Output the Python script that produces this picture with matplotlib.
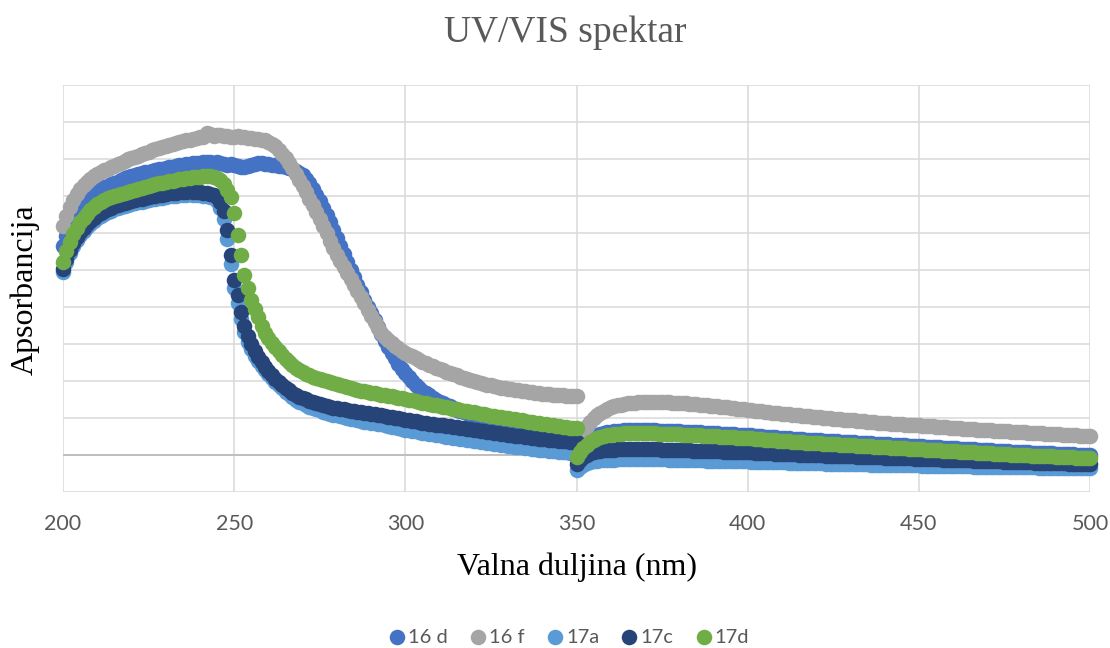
import matplotlib
matplotlib.use("Agg")
import matplotlib.pyplot as plt
from matplotlib.ticker import MultipleLocator, NullFormatter

# Wavelength grid: UV lamp 200-350 nm, then VIS lamp 350-500 nm (350 nm recorded twice)
wavelength_nm = list(range(200, 351)) + list(range(350, 501))

series_names = ["16 d", "16 f", "17a", "17c", "17d"]
series_colors = ["#4472C4", "#A5A5A5", "#5B9BD5", "#264478", "#70AD47"]

# Absorbance in mAU
abs_16d = [
    # 200-350 nm
    209, 219, 227, 234, 240, 245, 250, 254, 258, 261,
    264, 266, 268, 269, 271, 272, 273, 275, 277, 278,
    279, 280, 281, 282, 283, 283, 284, 285, 286, 286,
    287, 288, 288, 289, 290, 290, 291, 291, 292, 292,
    292, 293, 293, 293, 292, 293, 292, 291, 290, 291,
    290, 289, 288, 288, 289, 290, 291, 292, 292, 291,
    291, 290, 290, 289, 289, 288, 287, 286, 284, 282,
    280, 276, 272, 266, 260, 254, 247, 240, 233, 225,
    217, 209, 201, 193, 185, 178, 170, 163, 155, 148,
    142, 135, 128, 121, 114, 108, 102, 97, 91, 86,
    82, 78, 74, 70, 67, 64, 62, 60, 57, 55,
    53, 52, 50, 49, 47, 45, 44, 43, 42, 41,
    40, 39, 38, 38, 37, 36, 35, 35, 34, 34,
    33, 32, 32, 31, 31, 30, 30, 29, 29, 28,
    27, 27, 26, 26, 26, 25, 25, 24, 24, 23,
    23,
    # 350-500 nm
    3, 8, 11, 14, 16, 18, 20, 21, 22, 23,
    23, 24, 24, 24, 25, 25, 25, 25, 25, 25,
    25, 25, 25, 25, 24, 24, 24, 24, 24, 24,
    24, 23, 23, 23, 23, 23, 23, 22, 22, 22,
    22, 22, 21, 21, 21, 21, 21, 20, 20, 20,
    20, 20, 19, 19, 19, 18, 18, 18, 18, 17,
    17, 17, 17, 16, 16, 16, 16, 15, 15, 15,
    15, 15, 14, 14, 14, 14, 14, 13, 13, 13,
    13, 13, 12, 12, 12, 12, 12, 11, 11, 11,
    11, 11, 10, 10, 10, 10, 10, 9, 9, 9,
    9, 9, 8, 8, 8, 8, 8, 7, 7, 7,
    7, 7, 6, 6, 6, 6, 6, 5, 5, 5,
    5, 5, 4, 4, 4, 4, 4, 3, 3, 3,
    3, 3, 3, 2, 2, 2, 2, 2, 2, 2,
    1, 1, 1, 1, 1, 1, 0, 0, 0, 0,
    0,
]

abs_16f = [
    # 200-350 nm
    229, 239, 248, 255, 261, 266, 270, 273, 276, 279,
    281, 283, 285, 286, 288, 289, 291, 292, 294, 296,
    297, 298, 299, 301, 302, 303, 305, 306, 307, 308,
    309, 310, 311, 312, 313, 314, 315, 315, 316, 317,
    318, 318, 322, 321, 319, 320, 320, 319, 319, 318,
    318, 319, 318, 318, 317, 317, 316, 316, 315, 315,
    313, 311, 309, 305, 301, 297, 292, 287, 281, 275,
    269, 263, 256, 250, 243, 236, 229, 222, 214, 207,
    200, 194, 188, 182, 176, 170, 164, 158, 152, 145,
    139, 133, 127, 122, 118, 115, 112, 109, 107, 104,
    102, 100, 99, 97, 95, 93, 92, 90, 89, 87,
    86, 85, 83, 82, 81, 80, 78, 77, 76, 75,
    74, 73, 72, 71, 70, 70, 69, 68, 67, 67,
    66, 66, 65, 65, 64, 64, 63, 63, 62, 62,
    61, 61, 61, 60, 60, 60, 60, 59, 59, 59,
    59,
    # 350-500 nm
    12, 18, 24, 29, 33, 37, 40, 42, 44, 46,
    48, 49, 50, 50, 51, 52, 52, 52, 53, 53,
    53, 53, 53, 53, 53, 53, 53, 53, 52, 52,
    52, 52, 52, 51, 51, 51, 50, 50, 50, 49,
    49, 49, 48, 48, 48, 47, 47, 46, 46, 46,
    45, 45, 44, 44, 44, 43, 43, 42, 42, 42,
    41, 41, 41, 40, 40, 40, 39, 39, 39, 38,
    38, 38, 37, 37, 37, 36, 36, 36, 35, 35,
    35, 35, 34, 34, 34, 33, 33, 33, 32, 32,
    32, 32, 31, 31, 31, 31, 30, 30, 30, 30,
    30, 29, 29, 29, 29, 28, 28, 28, 28, 27,
    27, 27, 27, 26, 26, 26, 26, 25, 25, 25,
    25, 25, 24, 24, 24, 24, 24, 23, 23, 23,
    23, 23, 22, 22, 22, 22, 22, 21, 21, 21,
    21, 21, 20, 20, 20, 20, 20, 19, 19, 19,
    19,
]

abs_17a = [
    # 200-350 nm
    183, 193, 202, 209, 215, 220, 224, 228, 231, 234,
    237, 239, 241, 243, 244, 246, 247, 248, 249, 250,
    251, 252, 253, 253, 254, 255, 256, 256, 257, 257,
    258, 259, 259, 259, 260, 260, 260, 261, 260, 260,
    260, 259, 259, 258, 257, 254, 247, 236, 216, 191,
    167, 152, 136, 123, 113, 106, 99, 94, 89, 85,
    81, 77, 73, 70, 67, 63, 61, 58, 55, 53,
    52, 50, 48, 47, 46, 45, 43, 42, 41, 40,
    40, 39, 38, 37, 36, 36, 35, 34, 33, 33,
    32, 32, 31, 31, 30, 29, 28, 28, 27, 26,
    25, 25, 24, 24, 23, 22, 22, 21, 21, 20,
    20, 19, 18, 18, 17, 17, 16, 16, 15, 15,
    14, 14, 13, 13, 12, 12, 11, 11, 10, 10,
    9, 9, 8, 8, 8, 7, 7, 6, 6, 5,
    5, 5, 4, 4, 4, 3, 3, 3, 2, 2,
    2,
    # 350-500 nm
    -15, -12, -10, -8, -7, -6, -6, -5, -5, -5,
    -5, -5, -4, -4, -4, -4, -4, -4, -4, -4,
    -4, -4, -4, -4, -4, -4, -4, -5, -5, -5,
    -5, -5, -5, -5, -5, -5, -5, -5, -6, -6,
    -6, -6, -6, -6, -6, -6, -6, -6, -6, -6,
    -6, -7, -7, -7, -7, -7, -7, -7, -7, -7,
    -7, -7, -8, -8, -8, -8, -8, -8, -8, -8,
    -8, -8, -8, -9, -9, -9, -9, -9, -9, -9,
    -9, -9, -9, -9, -9, -9, -10, -10, -10, -10,
    -10, -10, -10, -10, -10, -10, -10, -10, -10, -10,
    -10, -11, -11, -11, -11, -11, -11, -11, -11, -11,
    -11, -11, -11, -11, -11, -11, -12, -12, -12, -12,
    -12, -12, -12, -12, -12, -12, -12, -12, -12, -12,
    -12, -12, -12, -12, -12, -13, -13, -13, -13, -13,
    -13, -13, -13, -13, -13, -13, -13, -13, -13, -13,
    -13,
]

abs_17c = [
    # 200-350 nm
    186, 196, 205, 212, 218, 223, 227, 231, 234, 237,
    240, 242, 244, 246, 247, 249, 250, 251, 252, 253,
    254, 255, 256, 256, 257, 258, 259, 259, 260, 260,
    261, 262, 262, 262, 263, 263, 263, 264, 263, 263,
    263, 262, 262, 261, 260, 258, 253, 244, 225, 200,
    175, 160, 143, 129, 119, 111, 104, 98, 93, 88,
    84, 80, 76, 73, 70, 67, 65, 62, 60, 58,
    57, 56, 54, 53, 52, 51, 50, 49, 48, 47,
    47, 46, 46, 45, 44, 44, 43, 43, 42, 42,
    41, 41, 40, 40, 39, 38, 38, 37, 37, 36,
    35, 35, 34, 34, 33, 32, 32, 31, 31, 30,
    30, 30, 29, 29, 28, 28, 27, 27, 26, 26,
    25, 25, 24, 24, 23, 23, 22, 22, 21, 21,
    20, 20, 19, 19, 19, 18, 18, 17, 17, 16,
    16, 16, 15, 15, 15, 14, 14, 14, 13, 13,
    13,
    # 350-500 nm
    -9, -5, -2, 0, 2, 3, 4, 4, 5, 5,
    5, 5, 6, 6, 6, 6, 6, 6, 6, 6,
    6, 6, 6, 6, 6, 5, 5, 5, 5, 5,
    5, 5, 5, 5, 4, 4, 4, 4, 4, 4,
    4, 4, 4, 3, 3, 3, 3, 3, 3, 3,
    3, 3, 2, 2, 2, 2, 2, 2, 1, 1,
    1, 1, 1, 1, 1, 0, 0, 0, 0, 0,
    0, 0, 0, -1, -1, -1, -1, -1, -1, -1,
    -1, -1, -2, -2, -2, -2, -2, -2, -2, -2,
    -3, -3, -3, -3, -3, -3, -3, -3, -3, -4,
    -4, -4, -4, -4, -4, -4, -4, -5, -5, -5,
    -5, -5, -5, -5, -5, -5, -6, -6, -6, -6,
    -6, -6, -6, -6, -6, -7, -7, -7, -7, -7,
    -7, -7, -7, -7, -8, -8, -8, -8, -8, -8,
    -8, -8, -8, -8, -9, -9, -9, -9, -9, -9,
    -9,
]

abs_17d = [
    # 200-350 nm
    193, 204, 213, 221, 227, 233, 237, 241, 245, 248,
    251, 253, 255, 257, 258, 259, 260, 261, 262, 263,
    264, 265, 266, 267, 268, 269, 270, 271, 272, 272,
    273, 274, 274, 275, 276, 276, 277, 277, 278, 278,
    278, 279, 279, 279, 278, 277, 275, 271, 265, 258,
    242, 220, 200, 180, 167, 155, 146, 138, 129, 122,
    117, 112, 108, 104, 100, 96, 93, 90, 87, 85,
    83, 81, 80, 78, 77, 76, 75, 74, 73, 72,
    71, 70, 69, 68, 67, 66, 65, 64, 64, 63,
    62, 62, 61, 60, 60, 59, 59, 58, 57, 57,
    56, 55, 55, 54, 53, 52, 52, 51, 50, 50,
    49, 48, 48, 47, 46, 46, 45, 44, 44, 43,
    43, 42, 41, 41, 40, 39, 39, 38, 38, 37,
    37, 36, 36, 35, 35, 34, 33, 33, 32, 32,
    31, 31, 30, 30, 29, 29, 28, 28, 27, 27,
    27,
    # 350-500 nm
    -2, 3, 7, 10, 13, 15, 17, 18, 19, 20,
    20, 21, 21, 21, 22, 22, 22, 22, 22, 22,
    22, 22, 22, 22, 21, 21, 21, 21, 21, 21,
    21, 20, 20, 20, 20, 20, 20, 19, 19, 19,
    19, 19, 18, 18, 18, 18, 18, 17, 17, 17,
    17, 17, 16, 16, 16, 15, 15, 15, 15, 14,
    14, 14, 14, 13, 13, 13, 13, 12, 12, 12,
    12, 12, 11, 11, 11, 11, 11, 10, 10, 10,
    10, 10, 9, 9, 9, 9, 9, 8, 8, 8,
    8, 8, 7, 7, 7, 7, 7, 6, 6, 6,
    6, 6, 5, 5, 5, 5, 5, 4, 4, 4,
    4, 4, 3, 3, 3, 3, 3, 2, 2, 2,
    2, 2, 1, 1, 1, 1, 1, 0, 0, 0,
    0, 0, 0, -1, -1, -1, -1, -1, -1, -1,
    -2, -2, -2, -2, -2, -2, -3, -3, -3, -3,
    -3,
]

x_ticks = [200, 250, 300, 350, 400, 450, 500]

plt.rcParams["font.family"] = ["Lato", "DejaVu Sans"]
SERIF = ["Liberation Serif", "DejaVu Serif"]
TEXT_GREY = "#595959"

W, H = 1110, 648
fig = plt.figure(figsize=(W / 100, H / 100), dpi=100)
ax = fig.add_axes([63 / W, 1 - 492 / H, (1090 - 63) / W, (492 - 85) / H])

all_series = [abs_16d, abs_16f, abs_17a, abs_17c, abs_17d]
handles = []
for name, color, values in zip(series_names, series_colors, all_series):
    h = ax.scatter(wavelength_nm, values, s=125, color=color, linewidths=0,
                   label=name, clip_on=False, zorder=3)
    handles.append(h)

ax.set_xlim(200, 500)
ax.set_ylim(-37, 370)
ax.set_xticks(x_ticks)
ax.set_xticklabels([str(t) for t in x_ticks])
ax.yaxis.set_major_locator(MultipleLocator(37))
ax.yaxis.set_major_formatter(NullFormatter())
ax.grid(True, color="#D9D9D9", linewidth=1.1)
ax.set_axisbelow(True)
ax.axhline(0, color="#BFBFBF", linewidth=1.4, zorder=1)
for spine in ax.spines.values():
    spine.set_visible(False)
ax.tick_params(axis="both", length=0)
ax.tick_params(axis="x", pad=16, labelsize=15.5, labelcolor=TEXT_GREY)

fig.text(565 / W, 1 - 33 / H, "UV/VIS spektar", ha="center", va="center",
         fontsize=27, color=TEXT_GREY, family=SERIF)
fig.text(577 / W, 1 - 567 / H, "Valna duljina (nm)", ha="center", va="center",
         fontsize=23, color="black", family=SERIF)
fig.text(25 / W, 1 - 290 / H, "Apsorbancija", ha="center", va="center",
         rotation=90, fontsize=23, color="black", family=SERIF)

fig.legend(handles, series_names, loc="center",
           bbox_to_anchor=(568 / W, 1 - 637 / H), ncol=5, frameon=False,
           fontsize=14.5, labelcolor=TEXT_GREY, handletextpad=0.05,
           columnspacing=1.0, handlelength=1.0, scatterpoints=1,
           markerscale=1.0)

fig.savefig("out.png", dpi=100)
